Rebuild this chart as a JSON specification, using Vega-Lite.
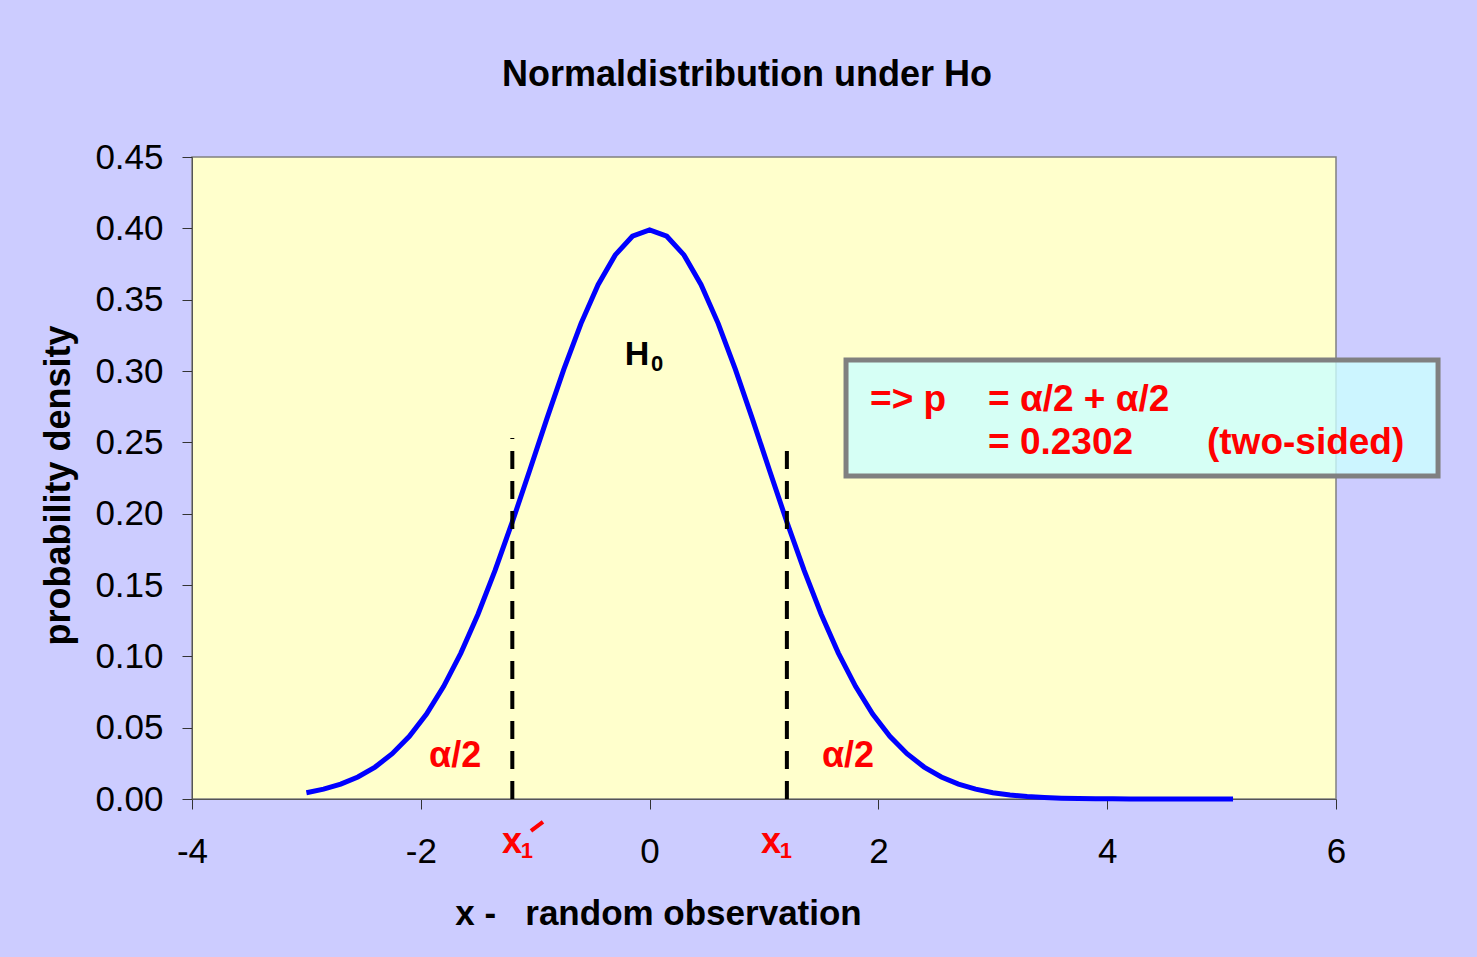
{
  "$schema": "https://vega.github.io/schema/vega-lite/v6.json",
  "autosize": "none",
  "width": 1144,
  "height": 642,
  "padding": {"left": 192, "top": 157, "right": 141, "bottom": 158},
  "background": "#CCCCFF",
  "title": {
    "text": "Normaldistribution under Ho",
    "font": "Liberation Sans",
    "fontSize": 36,
    "fontWeight": "bold",
    "color": "#000000",
    "anchor": "middle",
    "frame": "group",
    "dx": -17,
    "baseline": "alphabetic",
    "offset": 18
  },
  "config": {
    "view": {"fill": "#FFFFCC", "stroke": "#808080", "strokeWidth": 1.5},
    "axis": {
      "labelFont": "Liberation Sans",
      "labelFontSize": 35,
      "labelColor": "#000000",
      "labelFlush": false,
      "labelOverlap": false,
      "titleFont": "Liberation Sans",
      "titleFontSize": 35,
      "titleFontWeight": "bold",
      "titleColor": "#000000",
      "domainColor": "#555555",
      "tickColor": "#333333",
      "tickSize": 10,
      "grid": false
    }
  },
  "datasets": {
    "curve": [
      {"x": -3.0, "y": 0.004432}, {"x": -2.85, "y": 0.006873}, {"x": -2.7, "y": 0.010421},
      {"x": -2.55, "y": 0.015449}, {"x": -2.4, "y": 0.022395}, {"x": -2.25, "y": 0.03174},
      {"x": -2.1, "y": 0.043984}, {"x": -1.95, "y": 0.059595}, {"x": -1.8, "y": 0.07895},
      {"x": -1.65, "y": 0.102263}, {"x": -1.5, "y": 0.129518}, {"x": -1.35, "y": 0.160383},
      {"x": -1.2, "y": 0.194186}, {"x": -1.05, "y": 0.229883}, {"x": -0.9, "y": 0.266085},
      {"x": -0.75, "y": 0.301137}, {"x": -0.6, "y": 0.333225}, {"x": -0.45, "y": 0.360527},
      {"x": -0.3, "y": 0.381388}, {"x": -0.15, "y": 0.394479}, {"x": 0.0, "y": 0.398942},
      {"x": 0.15, "y": 0.394479}, {"x": 0.3, "y": 0.381388}, {"x": 0.45, "y": 0.360527},
      {"x": 0.6, "y": 0.333225}, {"x": 0.75, "y": 0.301137}, {"x": 0.9, "y": 0.266085},
      {"x": 1.05, "y": 0.229883}, {"x": 1.2, "y": 0.194186}, {"x": 1.35, "y": 0.160383},
      {"x": 1.5, "y": 0.129518}, {"x": 1.65, "y": 0.102263}, {"x": 1.8, "y": 0.07895},
      {"x": 1.95, "y": 0.059595}, {"x": 2.1, "y": 0.043984}, {"x": 2.25, "y": 0.03174},
      {"x": 2.4, "y": 0.022395}, {"x": 2.55, "y": 0.015449}, {"x": 2.7, "y": 0.010421},
      {"x": 2.85, "y": 0.006873}, {"x": 3.0, "y": 0.004432}, {"x": 3.15, "y": 0.002794},
      {"x": 3.3, "y": 0.001723}, {"x": 3.45, "y": 0.001038}, {"x": 3.6, "y": 0.000612},
      {"x": 3.75, "y": 0.000353}, {"x": 3.9, "y": 0.000199}, {"x": 4.05, "y": 0.000109},
      {"x": 4.2, "y": 0.000059}, {"x": 4.35, "y": 0.000031}, {"x": 4.5, "y": 0.000016},
      {"x": 4.65, "y": 0.000008}, {"x": 4.8, "y": 0.000004}, {"x": 4.95, "y": 0.000002},
      {"x": 5.1, "y": 0.000001}
    ],
    "cuts": [{"x": -1.2, "y": 0, "y2": 0.253}, {"x": 1.2, "y": 0, "y2": 0.244}],
    "prime": [{"x": -1.037, "y": -0.0224, "x2": -0.932, "y2": -0.0161}],
    "box": [{"x": 1.717, "x2": 6.892, "y": 0.2264, "y2": 0.3077}],
    "h": [{"x": -0.11, "y": 0.304, "label": "H"}],
    "hsub": [{"x": 0.065, "y": 0.3, "label": "0"}],
    "red": [
      {"x": -1.7, "y": 0.0224, "label": "α/2"},
      {"x": 1.734, "y": 0.0224, "label": "α/2"},
      {"x": -1.203, "y": -0.0379, "label": "x"},
      {"x": 1.061, "y": -0.0379, "label": "x"}
    ],
    "redsub": [
      {"x": -1.072, "y": -0.0414, "label": "1"},
      {"x": 1.192, "y": -0.0414, "label": "1"}
    ],
    "boxtext": [
      {"x": 1.927, "y": 0.272, "label": "=> p"},
      {"x": 2.958, "y": 0.272, "label": "= α/2 + α/2"},
      {"x": 2.958, "y": 0.2418, "label": "= 0.2302"},
      {"x": 4.872, "y": 0.2418, "label": "(two-sided)"}
    ]
  },
  "encoding": {
    "x": {
      "field": "x", "type": "quantitative",
      "scale": {"domain": [-4, 6], "nice": false, "zero": false},
      "axis": {"values": [-4, -2, 0, 2, 4, 6], "labelExpr": "replace(datum.label, '−', '-')", "labelPadding": 25, "title": "x -\u00a0\u00a0 random observation", "titleX": 466, "titleY": 125, "titleAnchor": null, "titleAlign": "center", "titleBaseline": "alphabetic"}
    },
    "y": {
      "field": "y", "type": "quantitative",
      "scale": {"domain": [0, 0.45], "nice": false, "zero": false},
      "axis": {"values": [0, 0.05, 0.1, 0.15, 0.2, 0.25, 0.3, 0.35, 0.4, 0.45], "format": ".2f", "labelPadding": 19, "title": "probability density", "titleFontSize": 36, "titleX": -123, "titleY": 328, "titleAngle": -90, "titleAlign": "center", "titleBaseline": "alphabetic"}
    }
  },
  "layer": [
    {
      "data": {"name": "curve"},
      "mark": {"type": "line", "color": "#0000FF", "strokeWidth": 5}
    },
    {
      "data": {"name": "cuts"},
      "mark": {"type": "rule", "color": "#000000", "strokeWidth": 4, "strokeDash": [18, 12]},
      "encoding": {"y2": {"field": "y2"}}
    },
    {
      "data": {"name": "prime"},
      "mark": {"type": "rule", "color": "#FF0000", "strokeWidth": 4},
      "encoding": {"x2": {"field": "x2"}, "y2": {"field": "y2"}}
    },
    {
      "data": {"name": "box"},
      "mark": {"type": "rect", "fill": "#CCFFFF", "fillOpacity": 0.8, "stroke": "#808080", "strokeWidth": 5},
      "encoding": {"x2": {"field": "x2"}, "y2": {"field": "y2"}}
    },
    {
      "data": {"name": "h"},
      "mark": {"type": "text", "font": "Liberation Sans", "fontWeight": "bold", "fontSize": 34, "color": "#000000", "align": "center", "baseline": "alphabetic"},
      "encoding": {"text": {"field": "label"}}
    },
    {
      "data": {"name": "hsub"},
      "mark": {"type": "text", "font": "Liberation Sans", "fontWeight": "bold", "fontSize": 22, "color": "#000000", "align": "center", "baseline": "alphabetic"},
      "encoding": {"text": {"field": "label"}}
    },
    {
      "data": {"name": "red"},
      "mark": {"type": "text", "font": "Liberation Sans", "fontWeight": "bold", "fontSize": 36, "color": "#FF0000", "align": "center", "baseline": "alphabetic"},
      "encoding": {"text": {"field": "label"}}
    },
    {
      "data": {"name": "redsub"},
      "mark": {"type": "text", "font": "Liberation Sans", "fontWeight": "bold", "fontSize": 22, "color": "#FF0000", "align": "center", "baseline": "alphabetic"},
      "encoding": {"text": {"field": "label"}}
    },
    {
      "data": {"name": "boxtext"},
      "mark": {"type": "text", "font": "Liberation Sans", "fontWeight": "bold", "fontSize": 37, "color": "#FF0000", "align": "left", "baseline": "alphabetic"},
      "encoding": {"text": {"field": "label"}}
    }
  ]
}
